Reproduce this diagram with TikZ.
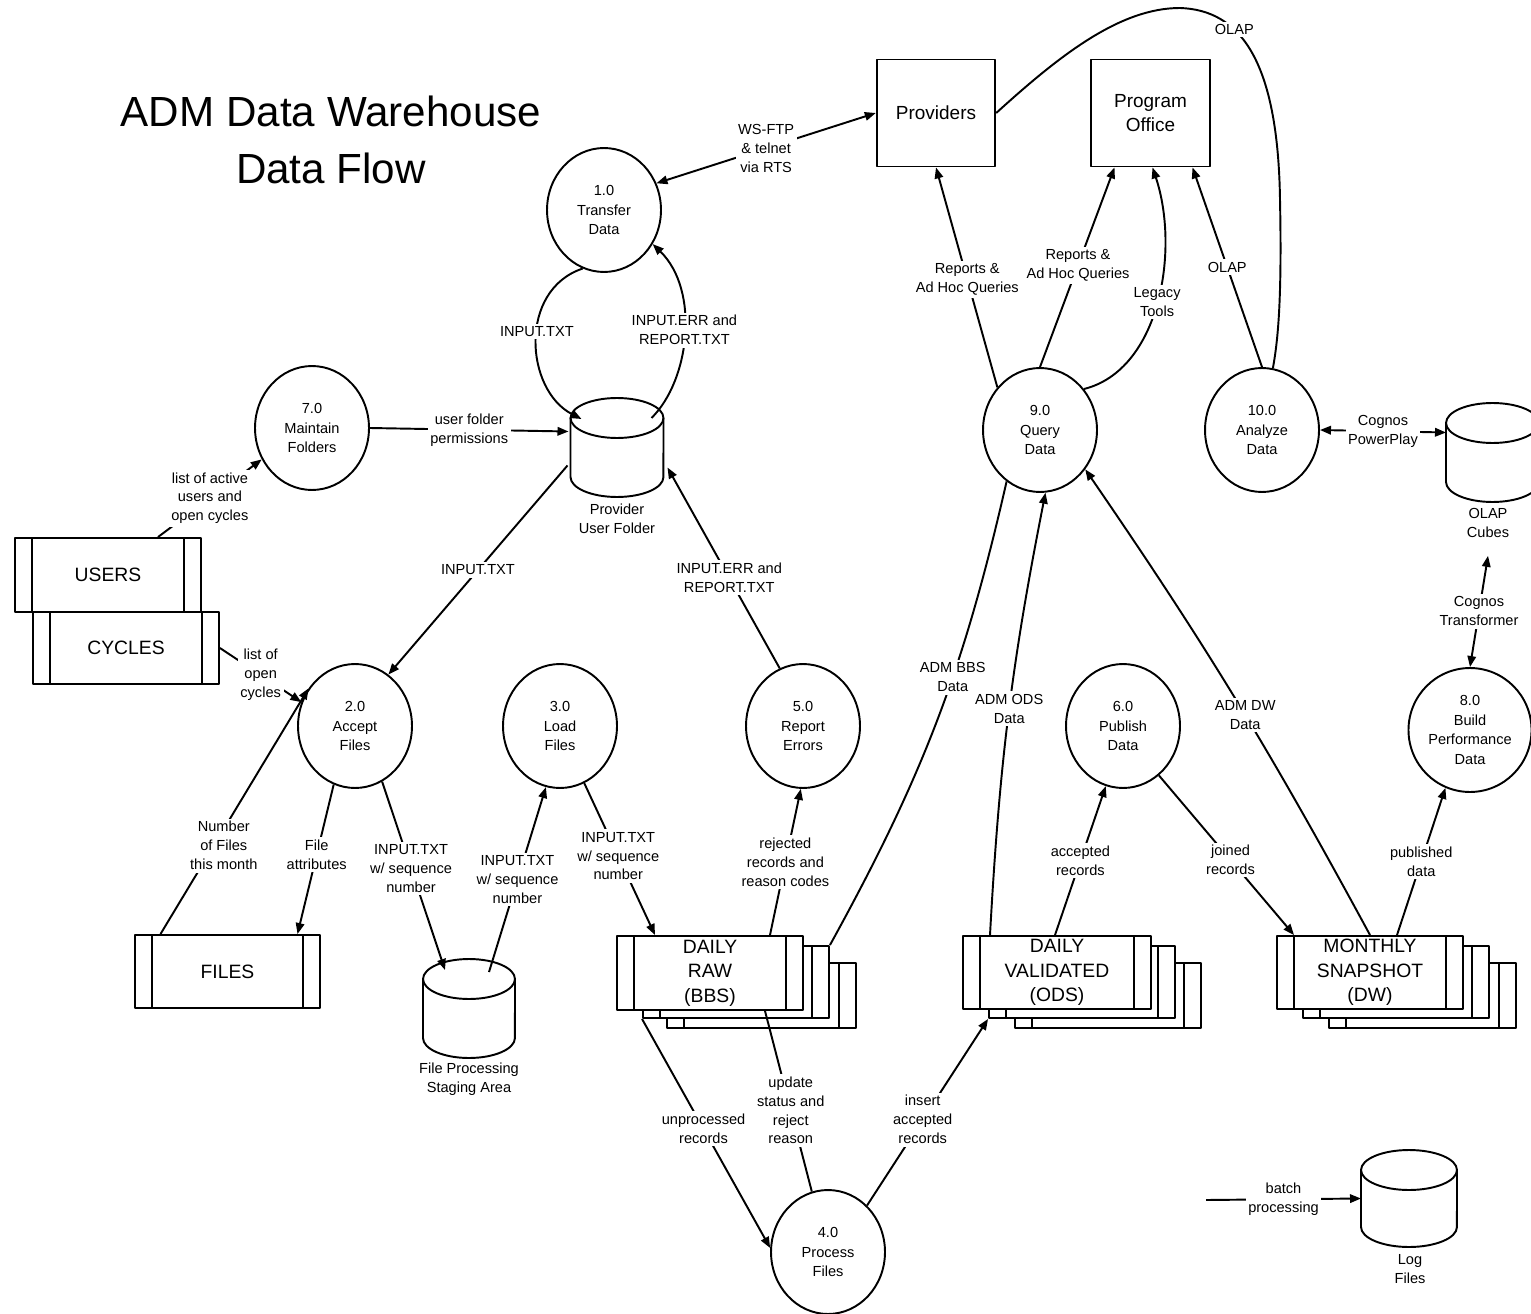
\documentclass[tikz,border=0pt]{standalone}
\usepackage{fontspec}
\setmainfont{Liberation Sans}
\usetikzlibrary{arrows.meta,shapes.geometric}
\newcommand{\mycyl}[5]{%
  \node[minimum width=#4*0.02cm, minimum height=#5*0.02cm, inner sep=0pt, outer sep=0pt] (#1) at (#2,#3+#5/2) {};
  \draw (#2-#4/2,#3+20) -- (#2-#4/2,#3+#5-20) arc[start angle=180, end angle=360, x radius=#4*0.01cm, y radius=0.4cm] -- (#2+#4/2,#3+20);
  \draw (#2,#3+20) ellipse[x radius=#4*0.01cm, y radius=0.4cm];
}
\begin{document}
\begin{tikzpicture}[x=0.02cm,y=-0.02cm, line width=1.1pt, line join=round,
  >={Triangle[length=2.2mm,width=1.7mm]},
  proc/.style={ellipse, draw, minimum width=2.28cm, minimum height=2.48cm, inner sep=1pt, align=center, font=\fontsize{8.3}{11.2}\selectfont},
  termbox/.style={rectangle, draw, align=center, minimum width=2.37cm, minimum height=2.14cm, font=\fontsize{10.8}{13.6}\selectfont},
  storebox/.style={draw, fill=white, rectangle, inner sep=0pt, align=center, font=\fontsize{11}{14}\selectfont,
    path picture={
      \draw ([xshift=0.34cm]path picture bounding box.north west) -- ([xshift=0.34cm]path picture bounding box.south west);
      \draw ([xshift=-0.34cm]path picture bounding box.north east) -- ([xshift=-0.34cm]path picture bounding box.south east);}},
  sz/.style 2 args={minimum width=#1*0.02cm, minimum height=#2*0.02cm},
  lbl/.style={fill=white, align=center, inner sep=1.5pt, font=\fontsize{8.3}{10.8}\selectfont},
  cyltext/.style={align=center, inner sep=1pt, font=\fontsize{8.3}{10.8}\selectfont}]

\useasboundingbox (0,0) rectangle (1531,1314);

% title
\node[align=center, font=\fontsize{24}{32.3}\selectfont] (title) at (331,140) {ADM Data Warehouse\\Data Flow};

% external entities
\node[termbox] (prov) at (936,113) {Providers};
\node[termbox] (prog) at (1150.5,113) {Program\\Office};

% processes
\node[proc] (p1) at (604,210) {1.0\\Transfer\\Data};
\node[proc] (p7) at (312,428) {7.0\\Maintain\\Folders};
\node[proc] (p2) at (355,726) {2.0\\Accept\\Files};
\node[proc] (p3) at (560,726) {3.0\\Load\\Files};
\node[proc] (p5) at (803,726) {5.0\\Report\\Errors};
\node[proc] (p6) at (1123,726) {6.0\\Publish\\Data};
\node[proc] (p8) at (1470,730) {8.0\\Build\\Performance\\Data};
\node[proc] (p9) at (1040,430) {9.0\\Query\\Data};
\node[proc] (p10) at (1262,430) {10.0\\Analyze\\Data};
\node[proc] (p4) at (828,1252) {4.0\\Process\\Files};

% data stores (boxes)
\node[storebox, sz={186}{74}] (users) at (108,575) {USERS};
\node[storebox, sz={186}{72}] (cycles) at (126,648) {CYCLES};
\node[storebox, sz={185}{73}] (files) at (227.5,971.5) {FILES};

\node[storebox, sz={189}{65}] (raw3) at (761.5,995.5) {};
\node[storebox, sz={186}{72}] (raw2) at (736,982) {};
\node[storebox, sz={186}{74}] (raw1) at (710,973) {DAILY\\RAW\\(BBS)};

\node[storebox, sz={186}{65}] (ods3) at (1108,995.5) {};
\node[storebox, sz={186}{72}] (ods2) at (1082,982) {};
\node[storebox, sz={188}{73}] (ods1) at (1057,972.5) {DAILY\\VALIDATED\\(ODS)};

\node[storebox, sz={187}{65}] (dw3) at (1422.5,995.5) {};
\node[storebox, sz={186}{72}] (dw2) at (1396,982) {};
\node[storebox, sz={186}{73}] (dw1) at (1370,972.5) {MONTHLY\\SNAPSHOT\\(DW)};

% cylinders
\mycyl{puf}{617}{398}{93}{99}
\node[cyltext] (pufl) at (617,518.5) {Provider\\User Folder};
\mycyl{stg}{469}{959}{92}{99}
\node[cyltext] (stgl) at (469,1079) {File Processing\\Staging Area};
\mycyl{olc}{1492.5}{403}{93}{99}
\node[cyltext] (olcl) at (1488,522.5) {OLAP\\Cubes};
\mycyl{logf}{1409}{1150}{96}{97}
\node[cyltext] (logfl) at (1410,1269) {Log\\Files};

% connectors
\draw[<->] (p1.27) -- node[lbl]{WS-FTP\\\& telnet\\via RTS} (prov.west);
\draw[->] (p1.250) .. controls (518,290) and (525,390) .. ([shift={(11,21)}]puf.north west) node[lbl,pos=0.45]{INPUT.TXT};
\draw[->] ([shift={(-12,20)}]puf.north east) .. controls (690,380) and (700,290) .. (p1.325) node[lbl,pos=0.52]{INPUT.ERR and\\REPORT.TXT};
\draw[->] (p7.east) -- node[lbl]{user folder\\permissions} ([shift={(-2,-16)}]puf.west);
\draw[->] ([shift={(50,0)}]users.north) -- node[lbl]{list of active\\users and\\open cycles} (p7.212);
\draw[->] (cycles.east) -- node[lbl]{list of\\open\\cycles} (p2.156);
\draw[->] ([shift={(-3,18)}]puf.west) -- node[lbl]{INPUT.TXT} (p2.57);
\draw[->] (p5.112) -- node[lbl,pos=0.45]{INPUT.ERR and\\REPORT.TXT} ([shift={(4,20)}]puf.east);
\draw[->] ([shift={(-67,0)}]files.north) -- node[lbl,pos=0.36,xshift=0.2cm]{Number\\of Files\\this month} (p2.141);
\draw[->] (p2.250) -- node[lbl,pos=0.47]{File\\attributes} ([shift={(70,0)}]files.north);
\draw[->] (p2.296) -- node[lbl,pos=0.46]{INPUT.TXT\\w/ sequence\\number} ([shift={(-24,11)}]stg.north);
\draw[->] ([shift={(20,13)}]stg.north) -- node[lbl,pos=0.5]{INPUT.TXT\\w/ sequence\\number} (p3.257);
\draw[->] (p3.293) -- node[lbl,pos=0.48]{INPUT.TXT\\w/ sequence\\number} ([shift={(-55,0)}]raw1.north);
\draw[->] ([shift={(60,0)}]raw1.north) -- node[lbl,pos=0.5]{rejected\\records and\\reason codes} (p5.268);
\draw (raw2.north east) to[bend right=8] node[lbl,pos=0.6]{ADM BBS\\Data} (p9.237);
\draw[->] ([shift={(-67,0)}]ods1.north) to[bend left=4] node[lbl,pos=0.51]{ADM ODS\\Data} (p9.275);
\draw[->] (dw1.north) to[bend right=3] node[lbl,pos=0.46]{ADM DW\\Data} (p9.319);
\draw[->] (p9.135) -- node[lbl,pos=0.49]{Reports \&\\Ad Hoc Queries} (prov.south);
\draw[->] (p9.north) -- node[lbl,pos=0.51]{Reports \&\\Ad Hoc Queries} ([shift={(-36,0)}]prog.south);
\draw[->] (p9.43) .. controls (1160,370) and (1180,250) .. ([shift={(2,0)}]prog.south) node[lbl,pos=0.5]{Legacy\\Tools};
\draw[->] (p10.north) -- node[lbl,pos=0.5]{OLAP} ([shift={(42,0)}]prog.south);
\draw (prov.east) .. controls (1060,55) and (1120,8) .. (1180,8) .. controls (1240,10) and (1278,60) .. (1280,200) node[lbl,pos=0.35]{OLAP} .. controls (1282,300) and (1278,340) .. (p10.80);
\draw[->] ([shift={(-2,0)}]ods1.north) -- node[lbl,pos=0.5]{accepted\\records} (p6.254);
\draw[->] (p6.306) -- node[lbl,pos=0.53]{joined\\records} ([shift={(18,0)}]dw1.north west);
\draw[->] ([shift={(27,0)}]dw1.north) -- node[lbl,pos=0.5]{published\\data} (p8.247);
\draw[<->] (p8.north) -- node[lbl,pos=0.5]{Cognos\\Transformer} ([shift={(0,16)}]olcl.south);
\draw[<->] (p10.east) -- node[lbl]{Cognos\\PowerPlay} ([shift={(0,-20)}]olc.west);
\draw[->] (raw2.south west) -- node[lbl,pos=0.48]{unprocessed\\records} (p4.176);
\draw (p4.105) -- node[lbl,pos=0.45]{update\\status and\\reject\\reason} ([shift={(55,0)}]raw1.south);
\draw[->] (p4.50) -- node[lbl,pos=0.46]{insert\\accepted\\records} (ods2.south west);

% legend
\coordinate (lg) at (1206,1200);
\draw[->] (lg) -- node[lbl]{batch\\processing} (logf.west);
\end{tikzpicture}
\end{document}
